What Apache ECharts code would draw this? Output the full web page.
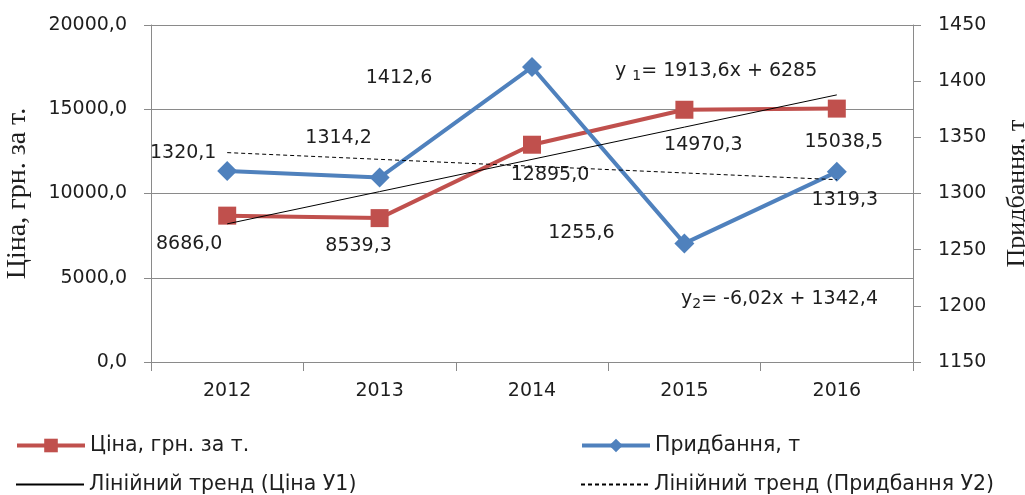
<!DOCTYPE html>
<html>
<head>
<meta charset="utf-8">
<script src="https://cdn.jsdelivr.net/npm/echarts@6/dist/echarts.min.js"></script>
<style>
  html, body { margin: 0; padding: 0; background: #fff; }
  #chart { width: 1025px; height: 495px; }
</style>
</head>
<body>
<div id="chart"></div>
<script>
// дані з графіка
var years = ['2012', '2013', '2014', '2015', '2016'];
var price = [8686.0, 8539.3, 12895.0, 14970.3, 15038.5];      // Ціна, грн. за т.
var purchase = [1320.1, 1314.2, 1412.6, 1255.6, 1319.3];      // Придбання, т
var trendPrice = [8198.6, 10112.2, 12025.8, 13939.4, 15853.0]; // y1 = 1913,6x + 6285
var trendPurchase = [1336.4, 1330.4, 1324.3, 1318.3, 1312.3];  // y2 = -6,02x + 1342,4

// зсув підписів від точки
var priceLabelOffset = [[-38, 28], [-21, 28], [18, 30], [19, 35], [7, 33]];
var purchaseLabelOffset = [[-44, -18], [-41, -39], [-133, 11], [-103, -10], [8, 28]];

var font = 'DejaVu Sans';
var txt = '#1e1e1e';
var gridCol = '#8a8a8a';

function comma(v) {
    return v.toFixed(1).replace('.', ',');
}

function withLabels(values, offsets) {
    return values.map(function (v, i) {
        return { value: v, label: { offset: offsets[i] } };
    });
}

function legendItem(name, left, top, isTrend) {
    var item = { name: name };
    if (isTrend) item.itemStyle = { opacity: 0 };
    else item.lineStyle = { width: 4 };
    return {
        orient: 'horizontal', left: left, top: top, padding: 0,
        itemWidth: 68, itemHeight: 17, itemGap: 0,
        textStyle: { fontFamily: font, fontSize: 20.5, color: txt },
        data: [item]
    };
}

var chart = echarts.init(document.getElementById('chart'));
var option = {
    animation: false,
    textStyle: { fontFamily: font },
    grid: { left: 151, right: 112, top: 25, bottom: 133, containLabel: false, outerBoundsMode: 'none' },
    legend: [
        legendItem('Ціна, грн. за т.', 15, 435, false),
        legendItem('Лінійний тренд (Ціна У1)', 15, 474, true),
        legendItem('Придбання, т', 580, 435, false),
        legendItem('Лінійний тренд (Придбання У2)', 580, 474, true)
    ],
    xAxis: {
        type: 'category',
        data: years,
        boundaryGap: true,
        axisLine: { lineStyle: { color: gridCol } },
        axisTick: { show: true, length: 9, lineStyle: { color: gridCol } },
        axisLabel: { fontFamily: font, fontSize: 19, color: txt, margin: 20 }
    },
    yAxis: [
        {
            type: 'value', min: 0, max: 20000, interval: 5000,
            name: 'Ціна, грн. за т.', nameLocation: 'middle', nameRotate: 90, nameGap: 119,
            nameTextStyle: { fontFamily: 'Liberation Serif', fontSize: 28, color: txt },
            axisLine: { show: true, lineStyle: { color: gridCol } },
            axisTick: { show: true, length: 7, lineStyle: { color: gridCol } },
            splitLine: { show: true, lineStyle: { color: gridCol } },
            axisLabel: { fontFamily: font, fontSize: 19, color: txt, margin: 24, formatter: comma }
        },
        {
            type: 'value', min: 1150, max: 1450, interval: 50, position: 'right',
            name: 'Придбання, т', nameLocation: 'middle', nameRotate: 90, nameGap: 91,
            nameTextStyle: { fontFamily: 'Liberation Serif', fontSize: 26, color: txt },
            axisLine: { show: true, lineStyle: { color: gridCol } },
            axisTick: { show: true, length: 8, lineStyle: { color: gridCol } },
            splitLine: { show: false },
            axisLabel: {
                fontFamily: font, fontSize: 19, color: txt, margin: 25,
                formatter: function (v) { return String(v); }
            }
        }
    ],
    series: [
        {
            name: 'Ціна, грн. за т.',
            type: 'line',
            yAxisIndex: 0,
            data: withLabels(price, priceLabelOffset),
            symbol: 'rect', symbolSize: 18,
            itemStyle: { color: '#C0504D' },
            lineStyle: { color: '#C0504D', width: 4 },
            label: {
                show: true, position: 'inside', align: 'center', verticalAlign: 'middle',
                fontFamily: font, fontSize: 19, color: txt,
                formatter: function (p) { return comma(p.value); }
            },
            z: 2
        },
        {
            name: 'Придбання, т',
            type: 'line',
            yAxisIndex: 1,
            data: withLabels(purchase, purchaseLabelOffset),
            symbol: 'diamond', symbolSize: 20,
            itemStyle: { color: '#4F81BD' },
            lineStyle: { color: '#4F81BD', width: 4 },
            label: {
                show: true, position: 'inside', align: 'center', verticalAlign: 'middle',
                fontFamily: font, fontSize: 19, color: txt,
                formatter: function (p) { return comma(p.value); }
            },
            z: 3
        },
        {
            name: 'Лінійний тренд (Ціна У1)',
            type: 'line',
            yAxisIndex: 0,
            data: trendPrice,
            symbol: 'none',
            itemStyle: { color: '#000' },
            lineStyle: { color: '#000', width: 1 },
            silent: true,
            z: 4
        },
        {
            name: 'Лінійний тренд (Придбання У2)',
            type: 'line',
            yAxisIndex: 1,
            data: trendPurchase,
            symbol: 'none',
            itemStyle: { color: '#000' },
            lineStyle: { color: '#000', width: 1, type: [4, 3] },
            silent: true,
            z: 4
        }
    ],
    graphic: [
        {
            type: 'text', left: 615, top: 62,
            style: {
                text: '{t|y }{s|1}{t|= 1913,6x + 6285}',
                rich: {
                    t: { fontFamily: font, fontSize: 19, fill: txt },
                    s: { fontFamily: font, fontSize: 14, fill: txt, padding: [10, 0, 0, 0] }
                }
            }
        },
        {
            type: 'text', left: 681, top: 290,
            style: {
                text: '{t|y}{s|2}{t|= -6,02x + 1342,4}',
                rich: {
                    t: { fontFamily: font, fontSize: 19, fill: txt },
                    s: { fontFamily: font, fontSize: 14, fill: txt, padding: [10, 0, 0, 0] }
                }
            }
        }
    ]
};
chart.setOption(option);
</script>
</body>
</html>
